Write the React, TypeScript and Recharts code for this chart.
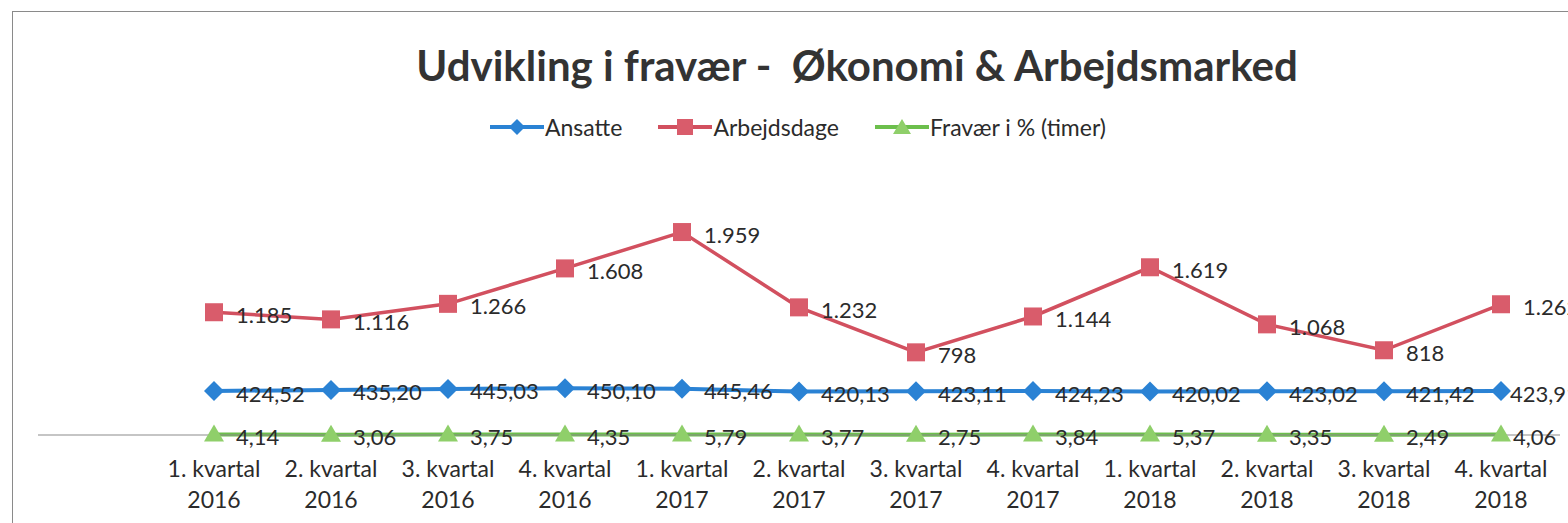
import React from 'react';
import { LineChart, Line, XAxis, YAxis, LabelList } from 'recharts';

// Data read off the reference chart
const quarters = ['1. kvartal', '2. kvartal', '3. kvartal', '4. kvartal', '1. kvartal', '2. kvartal', '3. kvartal', '4. kvartal', '1. kvartal', '2. kvartal', '3. kvartal', '4. kvartal'];
const years = ['2016', '2016', '2016', '2016', '2017', '2017', '2017', '2017', '2018', '2018', '2018', '2018'];
const ansatte = [424.52, 435.2, 445.03, 450.1, 445.46, 420.13, 423.11, 424.23, 420.02, 423.02, 421.42, 423.91];
const arbejdsdage = [1185, 1116, 1266, 1608, 1959, 1232, 798, 1144, 1619, 1068, 818, 1262];
const fravaer = [4.14, 3.06, 3.75, 4.35, 5.79, 3.77, 2.75, 3.84, 5.37, 3.35, 2.49, 4.06];

const BLUE = '#2a82d4';
const RED = '#d2505f';
const RED_MARK = '#d95c6b';
const GREEN = '#6cbf4c';
const GREEN_MARK = '#8fcf6a';
const TEXT = '#2b2b2b';
const FONT = 'Lato, "Noto Sans", sans-serif';

const data = quarters.map((q, i) => ({
  label: `${q}|${years[i]}`,
  ansatte: ansatte[i],
  arbejdsdage: arbejdsdage[i],
  fravaer: fravaer[i],
}));

const fmtDecimal = (v: number) => v.toFixed(2).replace('.', ',');
const fmtThousands = (v: number) =>
  String(Math.round(v)).replace(/\B(?=(\d{3})+(?!\d))/g, '.');

const Diamond = (props: any) => {
  const { cx, cy, index } = props;
  const r = 10;
  return (
    <path
      key={`d-${index}`}
      d={`M${cx},${cy - r}L${cx + r},${cy}L${cx},${cy + r}L${cx - r},${cy}Z`}
      fill={BLUE}
    />
  );
};

const Square = (props: any) => {
  const { cx, cy, index } = props;
  const s = 18;
  return <rect key={`s-${index}`} x={cx - s / 2} y={cy - s / 2} width={s} height={s} fill={RED_MARK} />;
};

const Triangle = (props: any) => {
  const { cx, cy, index } = props;
  const r = 10;
  return (
    <path
      key={`t-${index}`}
      d={`M${cx},${cy - r}L${cx + r},${cy + 7}L${cx - r},${cy + 7}Z`}
      fill={GREEN_MARK}
    />
  );
};

// last label of a series can be pulled in closer to its marker (as in the original)
const makeLabel = (fmt: (v: number) => string, lastDx = 22) => (props: any) => {
  const { x, y, value, index } = props;
  const dx = index === quarters.length - 1 ? lastDx : 22;
  return (
    <text x={x + dx} y={y + 2} fill={TEXT} fontSize={22} fontFamily={FONT} dominantBaseline="central">
      {fmt(value)}
    </text>
  );
};

const QuarterTick = (props: any) => {
  const { x, y, payload } = props;
  const [q, yr] = String(payload.value).split('|');
  return (
    <text x={x} textAnchor="middle" fill={TEXT} fontSize={23} fontFamily={FONT}>
      <tspan x={x} y={y + 34}>{q}</tspan>
      <tspan x={x} y={y + 65}>{yr}</tspan>
    </text>
  );
};

const legendItems = [
  { name: 'Ansatte', color: BLUE, mark: 'diamond' },
  { name: 'Arbejdsdage', color: RED, mark: 'square' },
  { name: 'Fravær i % (timer)', color: GREEN, mark: 'triangle' },
];

const LegendBox = () => (
  <div style={{ display: 'flex', alignItems: 'center', gap: 36, fontFamily: FONT, fontSize: 23, color: TEXT }}>
    {legendItems.map((it) => (
      <div key={it.name} style={{ display: 'flex', alignItems: 'center' }}>
        <svg width={54} height={18}>
          <line x1={0} y1={9} x2={54} y2={9} stroke={it.color} strokeWidth={4} />
          {it.mark === 'diamond' && <path d="M27,1L35,9L27,17L19,9Z" fill={BLUE} />}
          {it.mark === 'square' && <rect x={19} y={1} width={16} height={16} fill={RED_MARK} />}
          {it.mark === 'triangle' && <path d="M27,1L36,16L18,16Z" fill={GREEN_MARK} />}
        </svg>
        <span style={{ marginLeft: 1 }}>{it.name}</span>
      </div>
    ))}
  </div>
);

export default function App() {
  return (
    <div
      style={{
        position: 'absolute',
        left: 0,
        top: 0,
        width: 1568,
        height: 523,
        overflow: 'hidden',
        background: '#fff',
      }}
    >
      {/* chart frame */}
      <div
        style={{
          position: 'absolute',
          left: 12,
          top: 11,
          width: 1600,
          height: 600,
          border: '1.5px solid #8a8a8a',
        }}
      />
      <div
        style={{
          position: 'absolute',
          left: 0,
          top: 40,
          width: 1714,
          textAlign: 'center',
          whiteSpace: 'pre',
          fontFamily: FONT,
          fontWeight: 700,
          fontSize: 42,
          color: '#333',
        }}
      >
        Udvikling i fravær -  Økonomi & Arbejdsmarked
      </div>
      <div style={{ position: 'absolute', left: 490, top: 113 }}>
        <LegendBox />
      </div>
      <div style={{ position: 'absolute', left: 0, top: 0 }}>
        <LineChart width={1568} height={523} data={data} margin={{ top: 176, right: 8, left: 38, bottom: 58 }}>
          <XAxis
            dataKey="label"
            height={30}
            padding={{ left: 176, right: 59 }}
            tick={<QuarterTick />}
            tickLine={false}
            axisLine={{ stroke: '#8c8c8c', strokeWidth: 1.2 }}
            interval={0}
          />
          <YAxis hide domain={[0, 2500]} />
          <Line
            dataKey="fravaer"
            stroke={GREEN}
            strokeWidth={4}
            dot={<Triangle />}
            activeDot={false}
            isAnimationActive={false}
          >
            <LabelList dataKey="fravaer" content={makeLabel(fmtDecimal, 12)} />
          </Line>
          <Line
            dataKey="ansatte"
            stroke={BLUE}
            strokeWidth={4}
            dot={<Diamond />}
            activeDot={false}
            isAnimationActive={false}
          >
            <LabelList dataKey="ansatte" content={makeLabel(fmtDecimal, 9)} />
          </Line>
          <Line
            dataKey="arbejdsdage"
            stroke={RED}
            strokeWidth={3.5}
            dot={<Square />}
            activeDot={false}
            isAnimationActive={false}
          >
            <LabelList dataKey="arbejdsdage" content={makeLabel(fmtThousands)} />
          </Line>
        </LineChart>
      </div>
    </div>
  );
}
